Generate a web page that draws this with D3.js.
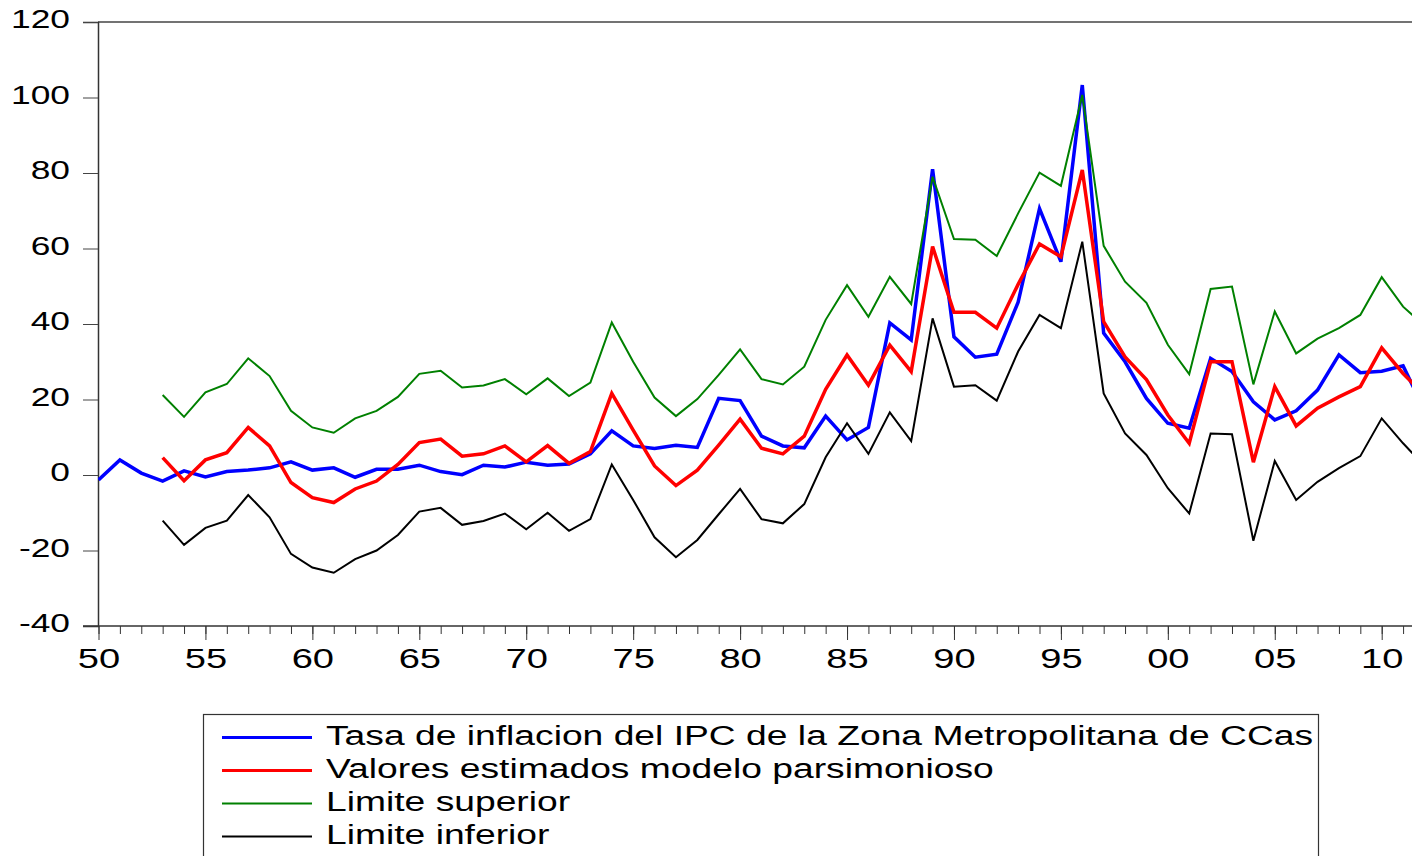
<!doctype html>
<html lang="es">
<head>
<meta charset="utf-8">
<title>Tasa de inflacion - modelo parsimonioso</title>
<script src="https://d3js.org/d3.v7.min.js"></script>
<style>
    body { margin: 0; background: #fff; }
    svg text { font-family: "Liberation Sans", Arial, sans-serif; fill: #000; }
</style>
</head>
<body>
<svg width="1412" height="856"></svg>
<script>
    // years 1950..2012 (last year is cut at the right edge)
    var years = d3.range(1950, 2013);

    var tasaIPC = [-1.3, 4.0, 0.5, -1.6, 1.1, -0.5, 0.9, 1.3, 1.9, 3.5,
        1.3, 1.9, -0.6, 1.5, 1.5, 2.6, 0.9, 0.1, 2.6, 2.1,
        3.4, 2.6, 2.9, 5.6, 11.7, 7.7, 7.0, 7.9, 7.3, 20.3,
        19.7, 10.3, 7.7, 7.2, 15.6, 9.3, 12.6, 40.3, 35.8, 81.0,
        36.6, 31.2, 32.0, 45.8, 70.6, 56.5, 103.3, 37.6, 30.0, 20.3,
        13.7, 12.4, 30.9, 27.4, 19.4, 14.6, 17.0, 22.5, 31.8, 27.1,
        27.5, 28.9, 17.3];

    var estimados = [null, null, null, 4.6, -1.5, 4.0, 5.9, 12.6, 7.7, -2.0,
        -6.0, -7.3, -3.7, -1.6, 2.8, 8.6, 9.5, 5.0, 5.6, 7.7,
        3.5, 7.8, 3.1, 6.2, 21.6, 11.9, 2.4, -2.8, 1.3, 7.9,
        14.8, 7.1, 5.6, 10.3, 22.7, 31.8, 23.8, 34.4, 27.4, 60.5,
        43.1, 43.1, 38.9, 50.5, 61.2, 57.8, 80.8, 40.6, 31.3, 25.3,
        15.9, 8.4, 30.0, 30.0, 3.4, 23.4, 13.0, 17.7, 20.7, 23.4,
        33.7, 26.9, 21.2];

    var limSuperior = [null, null, null, 21.2, 15.4, 21.9, 24.1, 30.9, 26.2, 17.0,
        12.6, 11.2, 15.0, 17.0, 20.7, 26.8, 27.6, 23.2, 23.7, 25.4,
        21.4, 25.6, 20.9, 24.5, 40.4, 30.0, 20.5, 15.6, 20.1, 26.5,
        33.3, 25.4, 24.0, 28.7, 41.1, 50.3, 41.9, 52.5, 45.3, 79.0,
        62.5, 62.3, 58.0, 69.3, 80.1, 76.6, 100.7, 60.7, 51.2, 45.6,
        34.5, 26.7, 49.3, 49.9, 24.0, 43.3, 32.2, 36.1, 38.9, 42.4,
        52.4, 44.6, 39.5];

    var limInferior = [null, null, null, -12.1, -18.5, -14.0, -12.1, -5.3, -11.2, -20.9,
        -24.5, -25.9, -22.3, -20.0, -15.9, -9.7, -8.7, -13.2, -12.2, -10.2,
        -14.4, -10.0, -14.8, -11.7, 2.8, -6.6, -16.5, -21.8, -17.2, -10.4,
        -3.7, -11.7, -12.8, -7.7, 4.7, 13.7, 5.6, 16.6, 9.0, 41.5,
        23.4, 23.8, 19.7, 32.7, 42.4, 38.9, 61.8, 21.6, 11.0, 5.3,
        -3.5, -10.2, 11.0, 10.8, -17.4, 3.7, -6.6, -1.8, 1.8, 5.0,
        15.0, 8.4, 2.4];

    var seriesNames = ["Tasa de inflacion del IPC de la Zona Metropolitana de CCas",
        "Valores estimados modelo parsimonioso", "Limite superior", "Limite inferior"];
    var seriesColors = ["#0000ff", "#ff0000", "#008000", "#000000"];
    var seriesWidths = [3.5, 3.5, 2, 2];

    var yTicks = [-40, -20, 0, 20, 40, 60, 80, 100, 120];
    var xTickYears = [1950, 1955, 1960, 1965, 1970, 1975, 1980, 1985, 1990, 1995, 2000, 2005, 2010];
    var xTickLabels = ["50", "55", "60", "65", "70", "75", "80", "85", "90", "95", "00", "05", "10"];

    var plotLeft = 98, plotTop = 22, plotBottom = 626, plotRight = 1412;
    var stretch = 1.36;       // axis text is drawn wide in the original
    var legendStretch = 1.33;

    var x = d3.scaleLinear().domain([1950, 2010]).range([98.5, 1381.7]);
    var y = d3.scaleLinear().domain([-40, 120]).range([plotBottom, plotTop]);

    var svg = d3.select("svg");

    // frame top line
    svg.append("line")
        .attr("x1", plotLeft).attr("x2", plotRight)
        .attr("y1", plotTop).attr("y2", plotTop)
        .attr("stroke", "#444").attr("stroke-width", 1.5);

    // y axis (plain hyphen for negatives, like the original)
    var gy = svg.append("g")
        .attr("transform", "translate(" + plotLeft + ",0)")
        .call(d3.axisLeft(y).tickValues(yTicks).tickSize(15).tickPadding(13)
            .tickFormat(function(d) { return String(d); }));
    gy.select(".domain").attr("stroke", "#333").attr("stroke-width", 1.5);
    gy.selectAll(".tick line").attr("stroke", "#444");
    gy.selectAll(".tick text")
        .attr("font-size", 26).attr("font-family", null)
        .attr("dy", "0.22em")
        .attr("x", -28 / stretch)
        .attr("transform", "scale(" + stretch + ",1)");

    // x axis: minor yearly ticks, then major ticks with labels
    var gxMinor = svg.append("g")
        .attr("transform", "translate(0," + plotBottom + ")")
        .call(d3.axisBottom(x).tickValues(years.filter(function(d) { return d <= 2011; }))
            .tickSize(8).tickFormat(""));
    gxMinor.select(".domain").remove();
    gxMinor.selectAll(".tick line").attr("stroke", "#333");

    var gx = svg.append("g")
        .attr("transform", "translate(0," + plotBottom + ")")
        .call(d3.axisBottom(x).tickValues(xTickYears).tickSize(14).tickPadding(8)
            .tickFormat(function(d, i) { return xTickLabels[i]; }));
    gx.select(".domain").remove();
    gx.selectAll(".tick line").attr("stroke", "#333");
    gx.selectAll(".tick text")
        .attr("font-size", 28).attr("font-family", null)
        .attr("transform", "scale(" + stretch + ",1)");

    svg.append("line")
        .attr("x1", plotLeft - 15).attr("x2", plotRight)
        .attr("y1", plotBottom).attr("y2", plotBottom)
        .attr("stroke", "#333").attr("stroke-width", 1.5);

    // series
    var allSeries = [tasaIPC, estimados, limSuperior, limInferior];
    var line = d3.line()
        .defined(function(d) { return d[1] !== null; })
        .x(function(d) { return x(d[0]); })
        .y(function(d) { return y(d[1]); });

    svg.append("clipPath").attr("id", "plotclip")
        .append("rect").attr("x", plotLeft).attr("y", 0)
        .attr("width", plotRight - plotLeft).attr("height", plotBottom);

    svg.append("g")
        .attr("clip-path", "url(#plotclip)")
        .selectAll("path")
        .data(allSeries)
        .enter()
        .append("path")
        .attr("d", function(s) { return line(years.map(function(yr, i) { return [yr, s[i]]; })); })
        .attr("fill", "none")
        .attr("stroke", function(d, i) { return seriesColors[i]; })
        .attr("stroke-width", function(d, i) { return seriesWidths[i]; })
        .attr("stroke-linejoin", "miter");

    // legend
    var legend = svg.append("g");
    legend.append("rect")
        .attr("x", 203.5).attr("y", 714.5)
        .attr("width", 1115).attr("height", 160)
        .attr("fill", "#fff").attr("stroke", "#333").attr("stroke-width", 1.2);

    var rows = legend.selectAll(".row")
        .data(seriesNames)
        .enter()
        .append("g")
        .attr("class", "row")
        .attr("transform", function(d, i) { return "translate(0," + (i * 33) + ")"; });

    rows.append("line")
        .attr("x1", 222).attr("x2", 312)
        .attr("y1", 737.5).attr("y2", 737.5)
        .attr("stroke", function(d, i) { return seriesColors[i]; })
        .attr("stroke-width", function(d, i) { return i < 2 ? 3 : 2; });

    rows.append("text")
        .attr("x", 326 / legendStretch)
        .attr("y", 745)
        .attr("font-size", 28)
        .attr("transform", "scale(" + legendStretch + ",1)")
        .text(function(d) { return d; });
</script>
</body>
</html>
